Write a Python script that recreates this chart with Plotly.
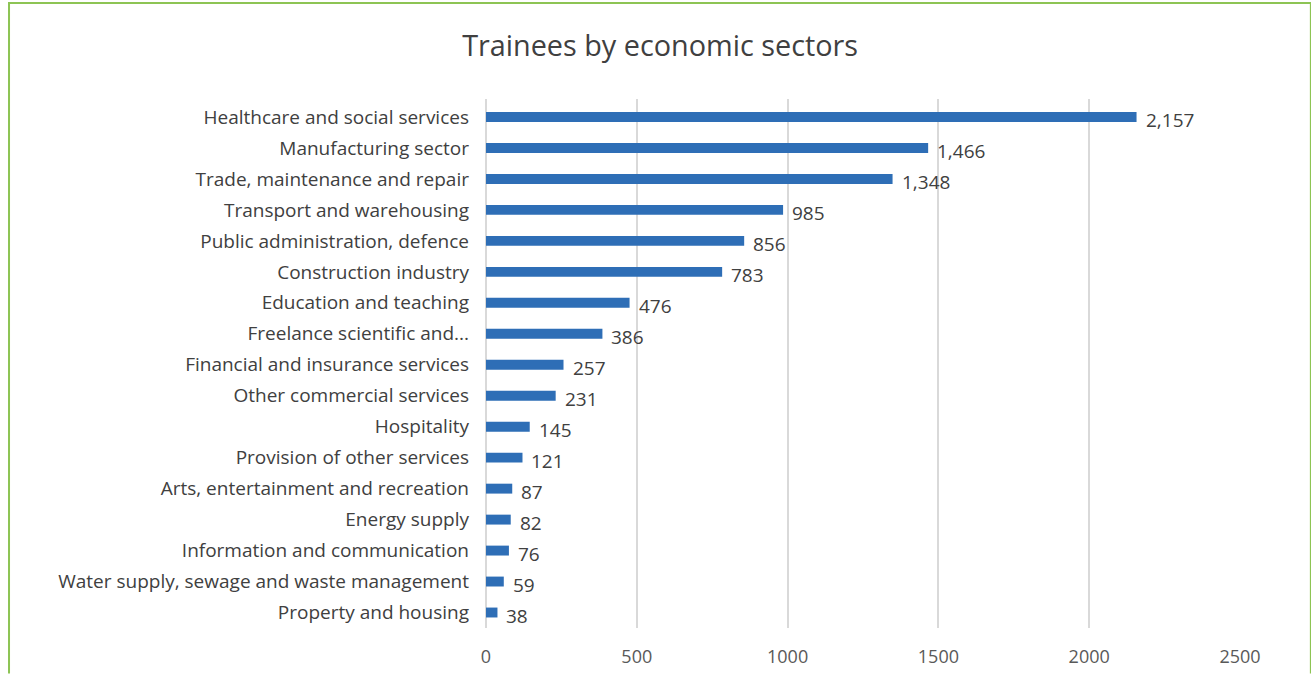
import plotly.graph_objects as go

# Trainees per economic sector (listed top to bottom)
sectors = [
    "Healthcare and social services",
    "Manufacturing sector",
    "Trade, maintenance and repair",
    "Transport and warehousing",
    "Public administration, defence",
    "Construction industry",
    "Education and teaching",
    "Freelance scientific and...",
    "Financial and insurance services",
    "Other commercial services",
    "Hospitality",
    "Provision of other services",
    "Arts, entertainment and recreation",
    "Energy supply",
    "Information and communication",
    "Water supply, sewage and waste management",
    "Property and housing",
]
trainees = [2157, 1466, 1348, 985, 856, 783, 476, 386, 257, 231, 145, 121, 87, 82, 76, 59, 38]
x_ticks = [0, 500, 1000, 1500, 2000, 2500]

FONT = "Open Sans"
TEXT = "#404040"

fig = go.Figure(
    go.Bar(
        x=trainees,
        y=sectors,
        orientation="h",
        marker=dict(color="#2E6EB6", line=dict(width=0)),
        hoverinfo="x+y",
    )
)

# value labels just past the end of each bar
annotations = [
    dict(
        x=v,
        y=s,
        xref="x",
        yref="y",
        text=f"{v:,}",
        showarrow=False,
        xanchor="left",
        yanchor="middle",
        xshift=7,
        yshift=-3,
        font=dict(family=FONT, size=19, color=TEXT),
    )
    for s, v in zip(sectors, trainees)
]

fig.update_layout(
    width=1311,
    height=675,
    margin=dict(l=486, r=71, t=99, b=47, autoexpand=False),
    paper_bgcolor="white",
    plot_bgcolor="white",
    showlegend=False,
    bargap=0.68,
    title=dict(
        text="Trainees by economic sectors",
        x=0.5035,
        xanchor="center",
        y=0.932,
        yanchor="middle",
        font=dict(family=FONT, size=28.8, color=TEXT),
    ),
    xaxis=dict(
        range=[0, 2500],
        tickvals=x_ticks,
        ticktext=[str(t) for t in x_ticks],
        showgrid=True,
        gridcolor="#D9D9D9",
        gridwidth=2,
        zeroline=True,
        zerolinecolor="#D9D9D9",
        zerolinewidth=2,
        showline=False,
        ticks="",
        automargin=False,
        ticklabelstandoff=16,
        tickfont=dict(family=FONT, size=18, color="#595959"),
    ),
    yaxis=dict(
        autorange="reversed",
        showgrid=False,
        showline=False,
        ticks="",
        automargin=False,
        ticklabelstandoff=16,
        tickfont=dict(family=FONT, size=19, color=TEXT),
    ),
    annotations=annotations,
    shapes=[
        # green frame around the chart (open at the bottom)
        dict(
            type="path",
            xref="paper",
            yref="paper",
            path="M -0.6326,-0.0860 L -0.6326,1.1815 L 1.0940,1.1815 L 1.0940,-0.0860",
            line=dict(color="#8DC454", width=2),
        )
    ],
)

fig.write_html("out.html")
